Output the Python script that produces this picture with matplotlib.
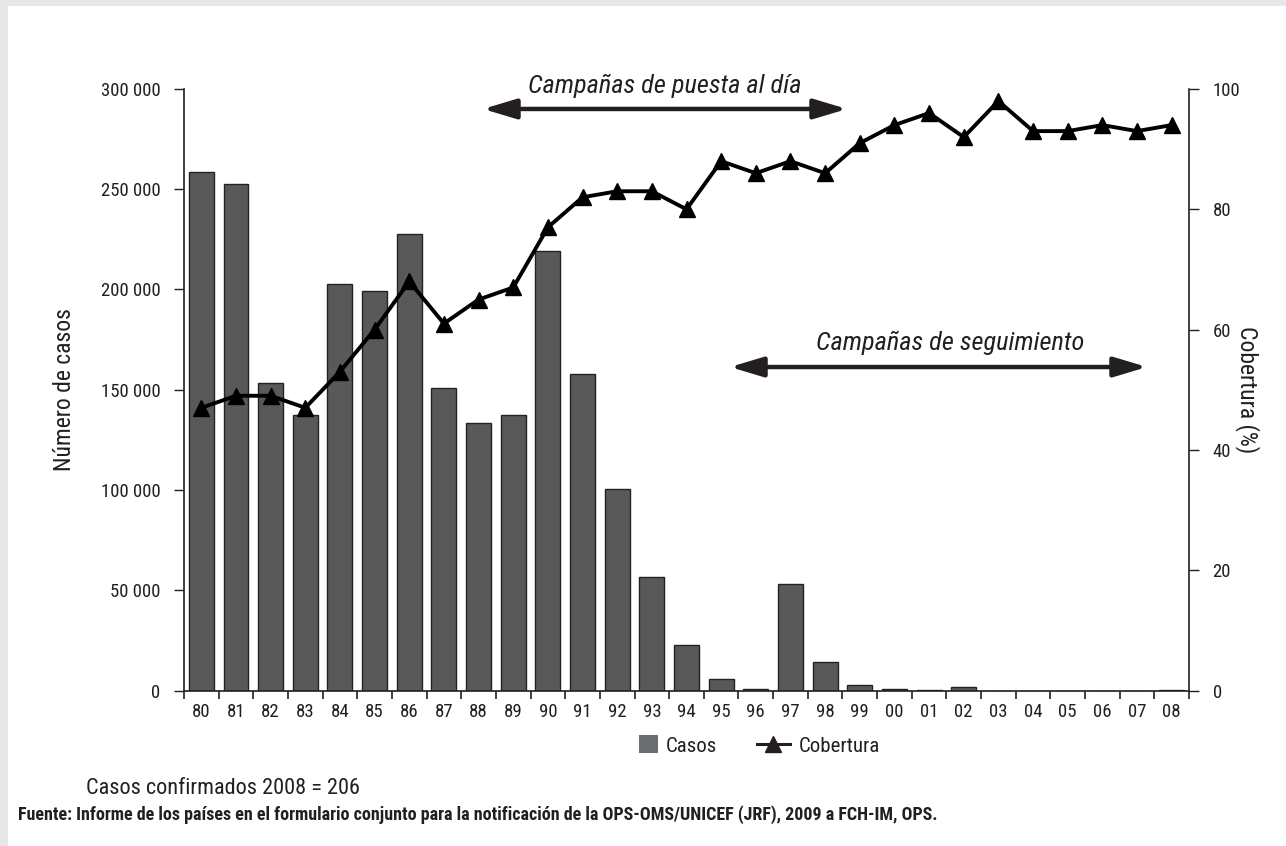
import matplotlib
matplotlib.use("Agg")
import matplotlib.pyplot as plt
from matplotlib.patches import Patch, Rectangle
from matplotlib.lines import Line2D
from matplotlib.legend_handler import HandlerPatch
import numpy as np

# data
years = ['80', '81', '82', '83', '84', '85', '86', '87', '88', '89',
         '90', '91', '92', '93', '94', '95', '96', '97', '98', '99',
         '00', '01', '02', '03', '04', '05', '06', '07', '08']
casos = [258600, 252600, 153400, 137400, 202700, 199200, 227600, 150900, 133400, 137400,
         219300, 157700, 100500, 56500, 22600, 5500, 850, 52900, 14000, 2800,
         850, 300, 1650, 0, 0, 0, 0, 0, 206]
cobertura = [47, 49, 49, 47, 53, 60, 68, 61, 65, 67,
             77, 82, 83, 83, 80, 88, 86, 88, 86, 91,
             94, 96, 92, 98, 93, 93, 94, 93, 94]
left_ticks = [0, 50000, 100000, 150000, 200000, 250000, 300000]
right_ticks = [0, 20, 40, 60, 80, 100]

plt.rcParams['font.family'] = ['Roboto Condensed', 'DejaVu Sans']
plt.rcParams['font.stretch'] = 'condensed'
TXT = '#231f20'

fig = plt.figure(figsize=(12.86, 8.46), dpi=100, facecolor='#e6e7e8')
fig.patches.append(Rectangle((8 / 1286, 0), 1, 1 - 6 / 846, transform=fig.transFigure,
                             facecolor='white', edgecolor='none', zorder=-5))

ax = fig.add_axes([184 / 1286, 1 - 690.5 / 846, 1005 / 1286, 601.5 / 846])
ax.set_facecolor('none')
x = np.arange(len(years))
ax.bar(x, casos, width=0.72, color='#595959', edgecolor='#222222', linewidth=1.0, zorder=2)
ax.set_xlim(-0.5, len(years) - 0.5)
ax.set_ylim(0, 300000)
ax.set_yticks(left_ticks)
ax.set_yticklabels([f'{v:,}'.replace(',', ' ') for v in left_ticks])
ax.set_xticks(x)
ax.set_xticklabels(years)
ax.set_xticks(np.arange(len(years) + 1) - 0.5, minor=True)
ax.tick_params(axis='x', which='major', length=0, pad=9, labelsize=13.5, colors=TXT)
ax.tick_params(axis='x', which='minor', length=6, width=1.2, color=TXT)
ax.tick_params(axis='y', length=7, width=1.0, pad=10, labelsize=13.5, colors=TXT)
for s in ['top', 'right']:
    ax.spines[s].set_visible(False)
for s in ['left', 'bottom']:
    ax.spines[s].set_color(TXT)
    ax.spines[s].set_linewidth(1.2)
ax.set_ylabel('Número de casos', fontsize=17, color=TXT, labelpad=18)

ax2 = ax.twinx()
ax2.plot(x, cobertura, color='black', lw=2.8, marker='^', markersize=12, zorder=3)
ax2.set_ylim(0, 100)
ax2.set_yticks(right_ticks)
ax2.tick_params(axis='y', length=7, width=1.0, pad=10, labelsize=13.5, colors=TXT)
for s in ['top', 'left', 'bottom']:
    ax2.spines[s].set_visible(False)
ax2.spines['right'].set_color(TXT)
ax2.spines['right'].set_linewidth(1.2)
ax2.set_ylabel('Cobertura (%)', fontsize=17, color=TXT, rotation=-90, labelpad=14)

# campaign arrows
arrow = dict(arrowstyle='<|-|>,head_length=1.0,head_width=0.3', mutation_scale=20,
             color=TXT, lw=3.2, shrinkA=0, shrinkB=0)
ax.annotate('', xy=(0.2975, 0.9668), xytext=(0.6597, 0.9668), xycoords='axes fraction',
            arrowprops=arrow)
ax.text(0.4786, 1.005, 'Campañas de puesta al día', transform=ax.transAxes,
        ha='center', va='center', fontsize=19, style='italic', color=TXT)
ax.annotate('', xy=(0.5433, 0.5378), xytext=(0.9582, 0.5378), xycoords='axes fraction',
            arrowprops=arrow)
ax.text(0.762, 0.5778, 'Campañas de seguimiento', transform=ax.transAxes,
        ha='center', va='center', fontsize=19, style='italic', color=TXT)


def square_patch(legend, orig_handle, xdescent, ydescent, width, height, fontsize):
    s = height * 1.25
    return Rectangle((width - s - xdescent, -ydescent - (s - height) / 2), s, s)


handles = [Patch(facecolor='#6d6e71', edgecolor='none'),
           Line2D([], [], color=TXT, lw=2.2, marker='^', markersize=11)]
fig.legend(handles, ['Casos', 'Cobertura'], loc='center', ncol=2, frameon=False,
           bbox_to_anchor=(752 / 1286, 1 - 746 / 846), fontsize=15, handlelength=1.6,
           columnspacing=1.9, handletextpad=0.4, labelcolor=TXT,
           handler_map={Patch: HandlerPatch(patch_func=square_patch)})

fig.text(86 / 1286, 1 - 788 / 846, 'Casos confirmados 2008 = 206', fontsize=16,
         color=TXT, va='center')
fig.text(18 / 1286, 1 - 815 / 846,
         'Fuente: Informe de los países en el formulario conjunto para la notificación de la '
         'OPS-OMS/UNICEF (JRF), 2009 a FCH-IM, OPS.',
         fontsize=13, fontweight='bold', color=TXT, va='center')

fig.savefig('out.png', dpi=100, facecolor=fig.get_facecolor())
